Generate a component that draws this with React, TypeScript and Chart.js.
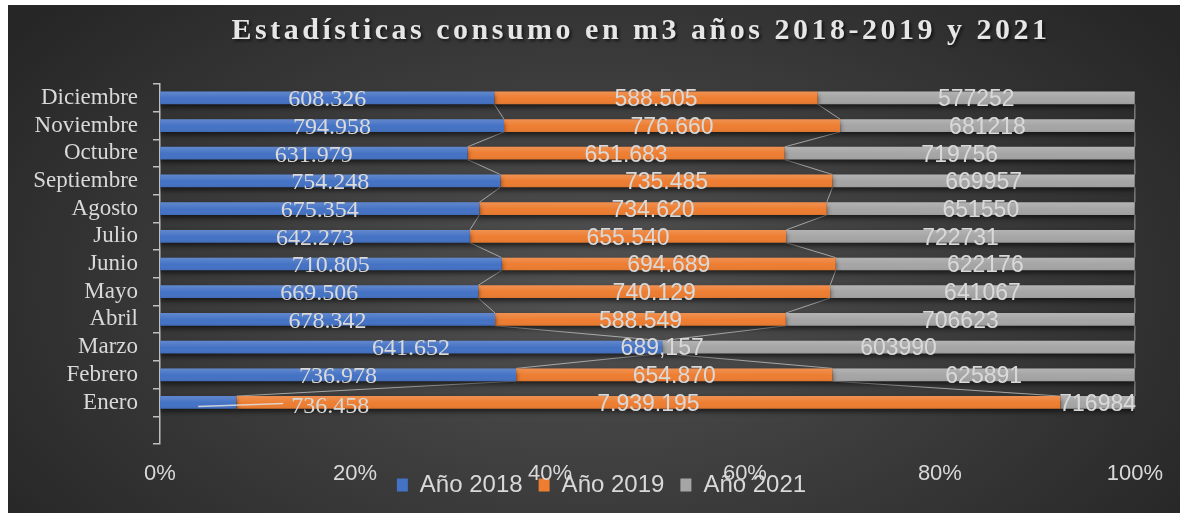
import { useEffect, useRef } from "react";
import { Chart, registerables } from "chart.js";

Chart.register(...registerables);

const TITLE = "Estadísticas consumo en m3 años 2018-2019 y 2021";
const MONTHS = ["Enero", "Febrero", "Marzo", "Abril", "Mayo", "Junio", "Julio", "Agosto", "Septiembre", "Octubre", "Noviembre", "Diciembre"];
const SERIES_NAMES = ["Año 2018", "Año 2019", "Año 2021"];
const V2018 = [736458, 736978, 641652, 678342, 669506, 710805, 642273, 675354, 754248, 631979, 794958, 608326];
const V2019 = [7939195, 654870, 0, 588549, 740129, 694689, 655540, 734620, 735485, 651683, 776660, 588505];
const V2021 = [716984, 625891, 603990, 706623, 641067, 622176, 722731, 651550, 669957, 719756, 681218, 577252];
const L2018 = ["736.458", "736.978", "641.652", "678.342", "669.506", "710.805", "642.273", "675.354", "754.248", "631.979", "794.958", "608.326"];
const L2019 = ["7.939.195", "654.870", "689,157", "588.549", "740.129", "694.689", "655.540", "734.620", "735.485", "651.683", "776.660", "588.505"];
const L2021 = ["716984", "625891", "603990", "706623", "641067", "622176", "722731", "651550", "669957", "719756", "681218", "577252"];
const X_TICKS = ["0%", "20%", "40%", "60%", "80%", "100%"];

const COLORS = ["#4472C4", "#ED7D31", "#A5A5A5"];
const TEXT = "#d9d9d9";
const LABEL_FONTS = ["24px 'Liberation Serif'", "23px 'Liberation Sans'", "23px 'Liberation Sans'"];
// Enero / Año 2018 label was dragged off its bar in the original (with leader line)
const MOVED = { series: 0, month: 0, dx: 132, dy: 4 };

const VALUES = [V2018, V2019, V2021];
const LABELS = [L2018, L2019, L2021];

const totals = MONTHS.map((_, i) => V2018[i] + V2019[i] + V2021[i]);

const bgPlugin = {
  id: "bgTitle",
  beforeDraw(chart: any) {
    const { ctx, width, height } = chart;
    ctx.save();
    ctx.translate(width * 0.5, height * 0.56);
    ctx.scale(1, (height / width) * 1.35);
    const g = ctx.createRadialGradient(0, 0, 0, 0, 0, width * 0.62);
    g.addColorStop(0, "#525252");
    g.addColorStop(1, "#262626");
    ctx.fillStyle = g;
    ctx.fillRect(-width, -height * 4, width * 2, height * 8);
    ctx.restore();

    ctx.save();
    ctx.font = "bold 30px 'Liberation Serif'";
    (ctx as any).letterSpacing = "3.5px";
    ctx.textAlign = "center";
    ctx.textBaseline = "alphabetic";
    ctx.shadowColor = "rgba(0,0,0,0.6)";
    ctx.shadowBlur = 3;
    ctx.shadowOffsetX = 2;
    ctx.shadowOffsetY = 2;
    ctx.fillStyle = "#e6e6e6";
    ctx.fillText(TITLE, 633, 34);
    ctx.restore();
  },
};

const barFxPlugin = {
  id: "barFx",
  beforeDatasetsDraw(chart: any) {
    const { ctx } = chart;
    // series lines
    ctx.save();
    ctx.strokeStyle = "rgba(200,200,200,0.75)";
    ctx.lineWidth = 1;
    for (let d = 0; d < 3; d++) {
      const meta = chart.getDatasetMeta(d);
      for (let i = 1; i < MONTHS.length; i++) {
        const a = meta.data[i];
        const b = meta.data[i + 1];
        if (!a || !b) continue;
        const up = a.y < b.y ? a : b;
        const lo = a.y < b.y ? b : a;
        ctx.beginPath();
        ctx.moveTo(up.x, up.y + up.height / 2);
        ctx.lineTo(lo.x, lo.y - lo.height / 2);
        ctx.stroke();
      }
    }
    ctx.restore();
    ctx.save();
    ctx.shadowColor = "rgba(0,0,0,0.6)";
    ctx.shadowBlur = 5;
    ctx.shadowOffsetY = 3;
  },
  afterDatasetsDraw(chart: any) {
    const { ctx } = chart;
    ctx.restore();
    // subtle highlight
    for (let d = 0; d < 3; d++) {
      const meta = chart.getDatasetMeta(d);
      meta.data.forEach((el: any, i: number) => {
        if (i === 0) return;
        const w = el.x - el.base;
        if (w <= 0) return;
        const top = el.y - el.height / 2;
        const g = ctx.createLinearGradient(0, top, 0, top + el.height);
        g.addColorStop(0, "rgba(255,255,255,0.16)");
        g.addColorStop(0.55, "rgba(255,255,255,0)");
        g.addColorStop(1, "rgba(0,0,0,0.06)");
        ctx.fillStyle = g;
        ctx.fillRect(el.base, top, w, el.height);
      });
    }
    // data labels
    ctx.save();
    ctx.fillStyle = TEXT;
    ctx.textAlign = "center";
    ctx.textBaseline = "middle";
    for (let d = 0; d < 3; d++) {
      const meta = chart.getDatasetMeta(d);
      ctx.font = LABEL_FONTS[d];
      meta.data.forEach((el: any, i: number) => {
        if (i === 0) return;
        const m = i - 1;
        const txt = LABELS[d][m];
        let cx = (el.x + el.base) / 2;
        let cy = el.y + 2;
        if (d === MOVED.series && m === MOVED.month) {
          const lx = cx + MOVED.dx;
          const ly = el.y + MOVED.dy;
          const tw = ctx.measureText(txt).width;
          ctx.save();
          ctx.strokeStyle = "rgba(225,225,225,0.85)";
          ctx.lineWidth = 1.5;
          ctx.beginPath();
          ctx.moveTo(cx, el.y + 4);
          ctx.lineTo(lx - tw / 2 - 8, el.y + 1);
          ctx.stroke();
          ctx.restore();
          cx = lx;
          cy = ly;
        }
        ctx.fillText(txt, cx, cy);
      });
    }
    ctx.restore();
  },
};

const noLabelClip = (s: any) => {
  s._computeLabelArea = () => undefined;
};

export default function App() {
  const ref = useRef<HTMLCanvasElement>(null);
  useEffect(() => {
    if (!ref.current) return;
    const labels = ["", ...MONTHS];
    const chart = new Chart(ref.current, {
      type: "bar",
      data: {
        labels,
        datasets: SERIES_NAMES.map((name, d) => ({
          label: name,
          data: [null, ...VALUES[d].map((v, i) => v / totals[i])],
          backgroundColor: COLORS[d],
          borderWidth: 0,
          barPercentage: 0.46,
          categoryPercentage: 1,
        })),
      },
      options: {
        indexAxis: "y",
        animation: false,
        responsive: false,
        devicePixelRatio: 1,
        layout: { padding: { left: 56, right: 41, top: 79, bottom: 6 } },
        scales: {
          x: {
            stacked: true,
            min: 0,
            max: 1,
            grid: { display: false, drawTicks: false },
            border: { display: false },
            ticks: {
              stepSize: 0.2,
              padding: 17,
              maxRotation: 0,
              color: TEXT,
              font: { family: "'Liberation Sans'", size: 22 },
              callback: (v: any) => X_TICKS[Math.round(Number(v) * 5)],
            },
            afterFit: (s: any) => {
              s.height = 13;
              noLabelClip(s);
            },
          },
          y: {
            stacked: true,
            reverse: true,
            grid: {
              display: true,
              offset: true,
              drawOnChartArea: false,
              drawTicks: true,
              tickLength: 7,
              color: "#bfbfbf",
              lineWidth: 1.5,
            },
            border: { display: true, color: "#bfbfbf", width: 1.5 },
            ticks: {
              autoSkip: false,
              padding: 15,
              color: TEXT,
              font: { family: "'Liberation Serif'", size: 23 },
            },
            afterFit: (s: any) => {
              s.width = 96;
              noLabelClip(s);
            },
          },
        },
        plugins: {
          legend: {
            position: "bottom",
            labels: {
              boxWidth: 11,
              boxHeight: 13,
              padding: 16,
              color: TEXT,
              font: { family: "'Liberation Sans'", size: 24 },
            },
          },
          title: { display: false },
          tooltip: { enabled: false },
        },
      },
      plugins: [bgPlugin, barFxPlugin],
    } as any);
    return () => chart.destroy();
  }, []);
  return (
    <div style={{ position: "fixed", left: 8, top: 5, width: 1172, height: 508, background: "#333" }}>
      <canvas ref={ref} width={1172} height={508} style={{ display: "block" }} />
    </div>
  );
}
